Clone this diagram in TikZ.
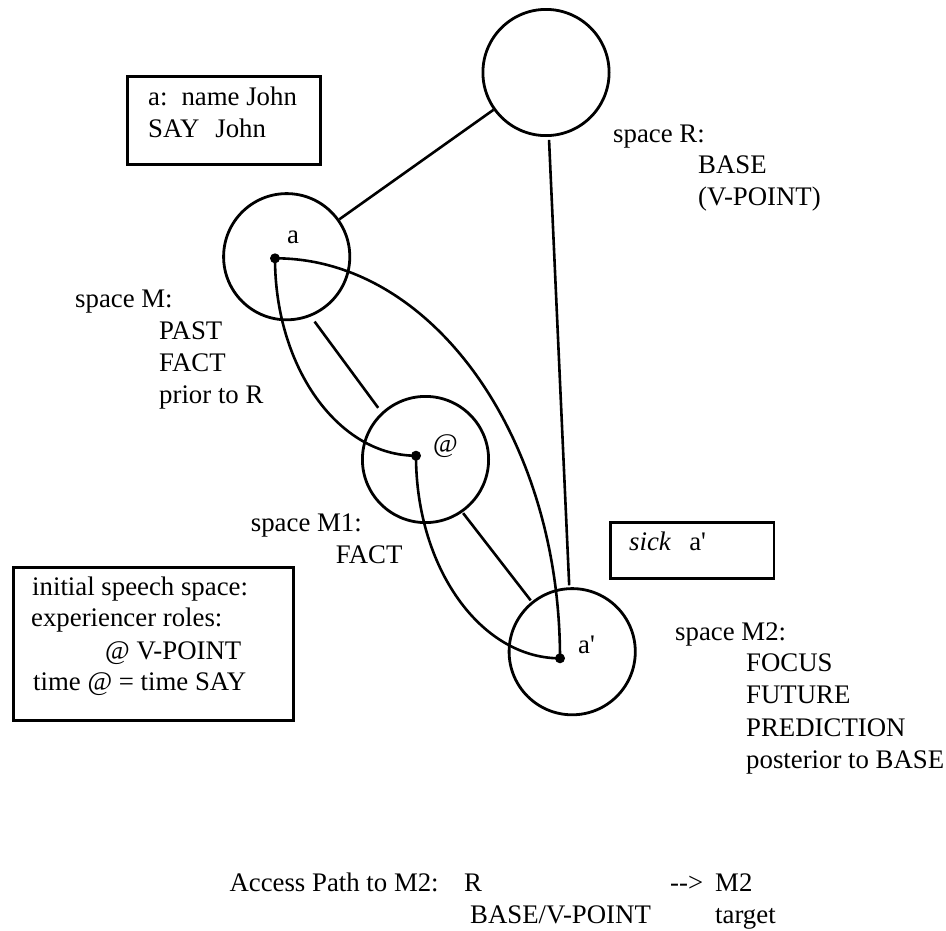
\documentclass[tikz,border=0pt]{standalone}
\usepackage{fontspec}
\setmainfont{Liberation Serif}[Ligatures=TeXOff]
\begin{document}
\begin{tikzpicture}[x=1pt,y=-1pt,
  space/.style={circle, draw, line width=2.8pt, minimum size=126.2pt, inner sep=0pt, outer sep=1.4pt},
  frame/.style={rectangle, draw, line width=2.8pt, inner sep=0pt},
  dot/.style={circle, fill, minimum size=10pt, inner sep=0pt},
  conn/.style={line width=2.6pt},
  txt/.style={anchor=base west, inner sep=0pt, font=\fontsize{26.8}{32}\selectfont}]
\useasboundingbox[fill=white] (0,0) rectangle (946,930);

% mental spaces
\node[space] (R)  at (546,72.5)  {};
\node[space] (a)  at (286.7,256.7) {};
\node[space] (M1) at (425.5,459.5) {};
\node[space] (M2) at (572.2,651.7) {};

% elements inside the spaces
\node[dot] (da)  at (275,258.3) {};
\node[dot] (dM1) at (416,455.7) {};
\node[dot] (dM2) at (560,658.3) {};
\node[txt] (la)  at (287,243) {a};
\node[txt] (lM1) at (433,452) {@};
\node[txt] (lM2) at (578,653) {a'};

% space lattice
\draw[conn] (a) -- (R);
\draw[conn, shorten <=3pt, shorten >=2pt] (R) -- (M2);
\draw[conn, shorten <=6.3pt, shorten >=5.6pt] (a.-68.2) -- (M1.133.6);
\draw[conn, shorten <=1pt, shorten >=1.5pt] (M1.-55) -- (M2.129.2);

% connectors between elements
\draw[conn] (da.center) .. controls (432,258) and (560,437) .. (dM2.center);
\draw[conn] (da.center) .. controls (275,367) and (338,455.7) .. (dM1.center);
\draw[conn] (dM1.center) .. controls (416,567.5) and (480.5,658.3) .. (dM2.center);

% framed notes
\node[frame, minimum width=192.9pt, minimum height=88.2pt] (boxA) at (223.85,120.5) {};
\node[txt] (boxA1) at (148,105) {a:\hspace{14pt}name John};
\node[txt] (boxA2) at (148,137) {SAY\hspace{16pt}John};

\node[frame, minimum width=279.9pt, minimum height=152.9pt] (boxI) at (153.65,643.85) {};
\node[txt] (boxI1) at (32,595) {initial speech space:};
\node[txt] (boxI2) at (31,626.7) {experiencer roles:};
\node[txt] (boxI3) at (105,659.3) {@ V-POINT};
\node[txt] (boxI4) at (33,690.7) {time @ = time SAY};

\node[frame, minimum width=163.2pt, minimum height=56.5pt] (boxS) at (692.3,550.35) {};
\node[txt] (boxS1) at (629,550) {\textit{sick}\hspace{18pt}a'};

% space descriptions
\node[txt] (dR1) at (613,142) {space R:};
\node[txt] (dR2) at (698,173.5) {BASE};
\node[txt] (dR3) at (698,205) {(V-POINT)};

\node[txt] (dM1a) at (75,307) {space M:};
\node[txt] (dM1b) at (159,339) {PAST};
\node[txt] (dM1c) at (159,371) {FACT};
\node[txt] (dM1d) at (159,403) {prior to R};

\node[txt] (dN1) at (250.7,531.7) {space M1:};
\node[txt] (dN2) at (335.7,563.3) {FACT};

\node[txt] (dP1) at (675,640) {space M2:};
\node[txt] (dP2) at (746,671.7) {FOCUS};
\node[txt] (dP3) at (746,703.5) {FUTURE};
\node[txt] (dP4) at (746,736) {PREDICTION};
\node[txt] (dP5) at (746,768.3) {posterior to BASE};

% access path
\node[txt] (ap1) at (229.3,891.7) {Access Path to M2:};
\node[txt] (ap2) at (464,891.7) {R};
\node[txt] (ap3) at (670,891.7) {-->};
\node[txt] (ap4) at (715,891.7) {M2};
\node[txt] (ap5) at (470,923.3) {BASE/V-POINT};
\node[txt] (ap6) at (715,923.3) {target};
\end{tikzpicture}
\end{document}
